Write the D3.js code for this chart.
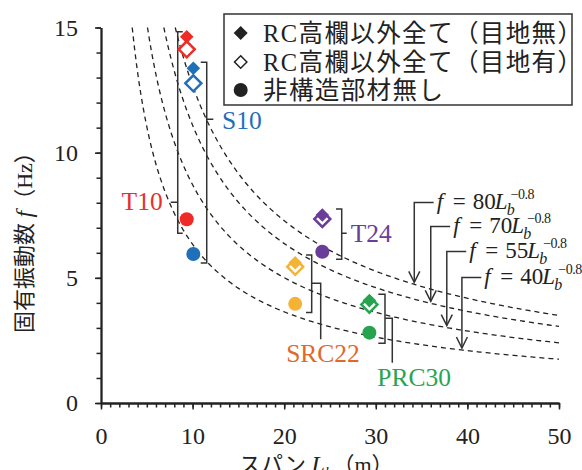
<!DOCTYPE html>
<html><head><meta charset="utf-8">
<script src="https://cdn.jsdelivr.net/npm/d3@7"></script>
<style>
body{margin:0;background:#fff;}
svg{display:block;}
text{font-family:"Liberation Serif","Noto Sans CJK JP",serif;fill:#222;}
</style></head><body>
<svg id="c" width="582" height="470"></svg>
<script>
// ---- data ----
const groups = ["T10","S10","T24","SRC22","PRC30"];
const spanL = [9.36, 10.08, 24.16, 21.2, 29.3];
const fNoJoint = [14.63, 13.37, 7.51, 5.60, 4.09];   // RC高欄以外全て（目地無）
const fJoint   = [14.13, 12.77, 7.35, 5.44, 3.93];   // RC高欄以外全て（目地有）
const fBare    = [7.34, 5.95, 6.04, 3.96, 2.81];     // 非構造部材無し
const markColors  = ["#ee2b26","#1f6fb9","#6a3d99","#f5b336","#27a350"];
const labelColors = ["#ea2f2a","#1f6fb9","#6a3d99","#e0682c","#2aa450"];
const coefs = [80, 70, 55, 40];
const expo = -0.8;
const arrowL = [34.2, 36.0, 37.75, 39.4];
const xTickValues = [0,10,20,30,40,50];
const yTickValues = [0,5,10,15];
const legendLabels = ["RC高欄以外全て（目地無）","RC高欄以外全て（目地有）","非構造部材無し"];

// ---- layout ----
const svg = d3.select("#c");
const x = d3.scaleLinear([0,50],[101,559]);
const y = d3.scaleLinear([0,15],[403,27.5]);
const ink = "#222";

// axes
const yMinor = svg.append("g").attr("transform","translate(101,0)")
  .call(d3.axisLeft(y).tickValues(d3.range(0,16)).tickSize(4.5).tickSizeOuter(0).tickFormat(""));
const yMajor = svg.append("g").attr("transform","translate(101,0)")
  .call(d3.axisLeft(y).tickValues(yTickValues).tickSize(6).tickSizeOuter(0).tickPadding(17).tickFormat(d3.format("d")));
const xMinor = svg.append("g").attr("transform","translate(0,403)")
  .call(d3.axisBottom(x).tickValues(d3.range(0,51)).tickSize(4.5).tickSizeOuter(0).tickFormat(""));
const xMajor = svg.append("g").attr("transform","translate(0,403)")
  .call(d3.axisBottom(x).tickValues(xTickValues).tickSize(6.5).tickSizeOuter(0).tickPadding(17).tickFormat(d3.format("d")));
[yMinor,yMajor,xMinor,xMajor].forEach(g=>{
  g.selectAll("path.domain").attr("stroke",ink).attr("stroke-width",1.8);
  g.selectAll("line").attr("stroke",ink).attr("stroke-width",1.5);
  g.selectAll("text").attr("font-size",24).attr("fill",ink)
    .style("font-family","'Liberation Serif',serif");
});

// axis titles
const xt = svg.append("text").attr("x",239).attr("y",472).attr("font-size",22);
xt.append("tspan").text("スパン ");
xt.append("tspan").attr("font-style","italic").style("font-family","'Liberation Serif'").attr("font-size",24).text("L");
xt.append("tspan").attr("font-style","italic").attr("font-size",15).attr("dy",5).text("b");
xt.append("tspan").attr("dy",-5).text("（m）");

const yt = svg.append("text").attr("transform","translate(24,333) rotate(-90)")
  .attr("dy","0.35em").attr("font-size",22);
yt.append("tspan").text("固有振動数 ");
yt.append("tspan").attr("font-style","italic").style("font-family","'Liberation Serif'").attr("font-size",24).text("f");
yt.append("tspan").text("（Hz）");

// curves f = a L^-0.8
const line = d3.line().x(d=>x(d[0])).y(d=>y(d[1]));
coefs.forEach(a=>{
  const L0 = Math.pow(a/15, 1/(-expo));
  const pts = d3.range(0,201).map(i=>{const L=L0+(50-L0)*i/200; return [L, a*Math.pow(L,expo)];});
  svg.append("path").attr("d",line(pts)).attr("fill","none")
    .attr("stroke",ink).attr("stroke-width",1.3).attr("stroke-dasharray","5,4");
});

// formula annotations
const fRows = [209,233,258,284];
coefs.forEach((a,i)=>{
  const vx = x(arrowL[i]);
  const tipY = y(a*Math.pow(arrowL[i],expo)) - 2;
  const base = fRows[i];
  const hy = base - 6.5;
  const tx = vx + 22.4;
  svg.append("path").attr("d",`M${tx-3},${hy}H${vx}V${tipY}`).attr("fill","none").attr("stroke","#333").attr("stroke-width",1.5);
  svg.append("path").attr("d",`M${vx-5.5},${tipY-11}L${vx},${tipY}L${vx+5.5},${tipY-11}`).attr("fill","none").attr("stroke","#333").attr("stroke-width",1.5);
  const g = svg.append("g");
  g.append("text").attr("x",tx).attr("y",base).attr("font-size",23).attr("font-style","italic").text("f");
  g.append("text").attr("x",tx+16).attr("y",base).attr("font-size",23).text("=");
  g.append("text").attr("x",tx+36).attr("y",base).attr("font-size",23).text(String(a));
  g.append("text").attr("x",tx+58).attr("y",base).attr("font-size",23).attr("font-style","italic").text("L");
  g.append("text").attr("x",tx+70).attr("y",base+6).attr("font-size",16).attr("font-style","italic").text("b");
  g.append("text").attr("x",tx+74).attr("y",base-10).attr("font-size",14).attr("letter-spacing",-0.5).text("−0.8");
});

// brackets
const brk = [
  {dx:-9,   padT:5,   padB:14,  end:5,    mid:202.3, midLen:-7},
  {dx:13.4, padT:6,   padB:9,   end:-6,   mid:119.3, midLen:6.6},
  {dx:19.4, padT:6,   padB:7.5, end:-5.7, mid:233.3, midLen:5},
  {dx:16.5, padT:7.8, padB:8.6, end:-5.7, mid:283.3, midLen:9,   drop:339.3},
  {dx:15.6, padT:6.4, padB:10.6,end:-6.7, mid:318.3, midLen:7.3, drop:362.7}
];
const labelPos = [
  {x:162.7, y:202, anchor:"end",    dy:"0.33em"},
  {x:222,   y:121, anchor:"start",  dy:"0.33em"},
  {x:350.7, y:233.5, anchor:"start",dy:"0.33em"},
  {x:323,   y:362, anchor:"middle", dy:"0"},
  {x:377.3, y:386, anchor:"start",  dy:"0"}
];
groups.forEach((gname,i)=>{
  const b = brk[i];
  const bx = x(spanL[i]) + b.dx;
  const top = y(Math.max(fNoJoint[i],fJoint[i],fBare[i])) - b.padT;
  const bot = y(Math.min(fNoJoint[i],fJoint[i],fBare[i])) + b.padB;
  let d = `M${bx+b.end},${top}H${bx}V${bot}H${bx+b.end}M${bx},${b.mid}H${bx+b.midLen}`;
  if (b.drop) d += `V${b.drop}`;
  svg.append("path").attr("d",d).attr("fill","none").attr("stroke","#333").attr("stroke-width",1.5);
  const lp = labelPos[i];
  svg.append("text").attr("x",lp.x).attr("y",lp.y).attr("dy",lp.dy).attr("text-anchor",lp.anchor)
    .attr("font-size",25.5).style("fill",labelColors[i]).text(gname);
});

// markers
const diamond = r => `M0,${-r}L${r},0L0,${r}L${-r},0Z`;
svg.append("g").selectAll("path").data(groups).join("path")
  .attr("transform",(d,i)=>`translate(${x(spanL[i])},${y(fJoint[i])})`)
  .attr("d",diamond(8)).attr("fill","#fff").attr("stroke",(d,i)=>markColors[i]).attr("stroke-width",2.5);
svg.append("g").selectAll("path").data(groups).join("path")
  .attr("transform",(d,i)=>`translate(${x(spanL[i])},${y(fNoJoint[i])})`)
  .attr("d",diamond(6.8)).attr("fill",(d,i)=>markColors[i]);
svg.append("g").selectAll("circle").data(groups).join("circle")
  .attr("cx",(d,i)=>x(spanL[i])).attr("cy",(d,i)=>y(fBare[i])).attr("r",7)
  .attr("fill",(d,i)=>markColors[i]);

// legend
const lg = svg.append("g");
lg.append("rect").attr("x",224).attr("y",14).attr("width",348).attr("height",91)
  .attr("fill","#fff").attr("stroke","#333").attr("stroke-width",1.5);
const rowsY = [33,62,90];
lg.append("path").attr("transform",`translate(240.7,${rowsY[0]})`).attr("d",diamond(7)).attr("fill",ink);
lg.append("path").attr("transform",`translate(240.7,${rowsY[1]})`).attr("d",diamond(6.2)).attr("fill","#fff").attr("stroke",ink).attr("stroke-width",1.5);
lg.append("circle").attr("cx",240.7).attr("cy",rowsY[2]).attr("r",7).attr("fill",ink);
legendLabels.forEach((t,i)=>{
  lg.append("text").attr("x",263).attr("y",rowsY[i]).attr("dy","0.36em").attr("font-size",24.5)
    .attr("letter-spacing",1.4).text(t);
});
</script>
</body></html>
